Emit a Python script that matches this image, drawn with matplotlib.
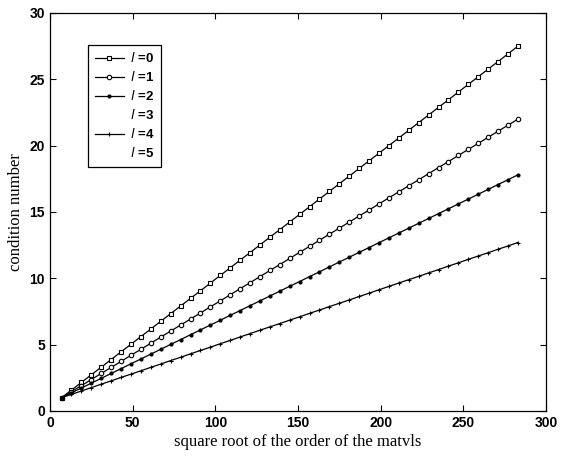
import matplotlib
matplotlib.use("Agg")
import matplotlib.pyplot as plt
from matplotlib.lines import Line2D

x = [7, 13, 19, 25, 31, 37, 43, 49, 55, 61, 67, 73, 79, 85, 91, 97, 103, 109, 115, 121,
     127, 133, 139, 145, 151, 157, 163, 169, 175, 181, 187, 193, 199, 205, 211, 217, 223,
     229, 235, 241, 247, 253, 259, 265, 271, 277, 283]

y_l0 = [1.00, 1.58, 2.15, 2.73, 3.30, 3.88, 4.46, 5.03, 5.61, 6.18, 6.76, 7.34, 7.91, 8.49,
        9.06, 9.64, 10.22, 10.79, 11.37, 11.94, 12.52, 13.10, 13.67, 14.25, 14.82, 15.40,
        15.98, 16.55, 17.13, 17.70, 18.28, 18.86, 19.43, 20.01, 20.58, 21.16, 21.74, 22.31,
        22.89, 23.46, 24.04, 24.62, 25.19, 25.77, 26.34, 26.92, 27.50]
y_l1 = [1.00, 1.46, 1.91, 2.37, 2.83, 3.28, 3.74, 4.20, 4.65, 5.11, 5.57, 6.02, 6.48, 6.93,
        7.39, 7.85, 8.30, 8.76, 9.22, 9.67, 10.13, 10.59, 11.04, 11.50, 11.96, 12.41, 12.87,
        13.33, 13.78, 14.24, 14.70, 15.15, 15.61, 16.07, 16.52, 16.98, 17.43, 17.89, 18.35,
        18.80, 19.26, 19.72, 20.17, 20.63, 21.09, 21.54, 22.00]
y_l2 = [1.00, 1.37, 1.73, 2.10, 2.46, 2.83, 3.19, 3.56, 3.92, 4.29, 4.65, 5.02, 5.38, 5.75,
        6.11, 6.48, 6.84, 7.21, 7.57, 7.94, 8.30, 8.67, 9.03, 9.40, 9.76, 10.13, 10.49,
        10.86, 11.23, 11.59, 11.96, 12.32, 12.69, 13.05, 13.42, 13.78, 14.15, 14.51, 14.88,
        15.24, 15.61, 15.97, 16.34, 16.70, 17.07, 17.43, 17.80]
y_l4 = [1.00, 1.25, 1.51, 1.76, 2.02, 2.27, 2.53, 2.78, 3.03, 3.29, 3.54, 3.80, 4.05, 4.31,
        4.56, 4.81, 5.07, 5.32, 5.58, 5.83, 6.09, 6.34, 6.59, 6.85, 7.10, 7.36, 7.61, 7.87,
        8.12, 8.37, 8.63, 8.88, 9.14, 9.39, 9.65, 9.90, 10.15, 10.41, 10.66, 10.92, 11.17,
        11.43, 11.68, 11.93, 12.19, 12.44, 12.70]

labels = ["$l$ =0", "$l$ =1", "$l$ =2", "$l$ =3", "$l$ =4", "$l$ =5"]
xticks = [0, 50, 100, 150, 200, 250, 300]
yticks = [0, 5, 10, 15, 20, 25, 30]

fig = plt.figure(figsize=(5.88, 4.59), dpi=100)
ax = fig.add_axes([0.085, 0.1046, 0.8436, 0.8671])

ax.plot(x, y_l0, color="black", lw=0.9, marker="s", ms=3.2, mfc="white", mec="black", mew=0.8)
ax.plot(x, y_l1, color="black", lw=0.9, marker="o", ms=3.2, mfc="white", mec="black", mew=0.8)
ax.plot(x, y_l2, color="black", lw=0.9, marker=".", ms=4.0, mfc="black", mec="black")
ax.plot(x, y_l4, color="black", lw=0.9, marker="+", ms=3.2, mec="black", mew=0.8)

handles = [
    Line2D([], [], color="black", lw=0.9, marker="s", ms=3.2, mfc="white", mec="black", mew=0.8),
    Line2D([], [], color="black", lw=0.9, marker="o", ms=3.2, mfc="white", mec="black", mew=0.8),
    Line2D([], [], color="black", lw=0.9, marker=".", ms=4.0),
    Line2D([], [], color="none", lw=0.9),
    Line2D([], [], color="black", lw=0.9, marker="+", ms=3.2, mew=0.8),
    Line2D([], [], color="none", lw=0.9),
]
leg = ax.legend(handles, labels, loc="upper left", bbox_to_anchor=(0.077, 0.92),
                borderaxespad=0, numpoints=1,
                frameon=True, fancybox=False, edgecolor="black", framealpha=1,
                prop={"family": "Liberation Sans", "weight": "bold", "size": 9.5},
                handlelength=2.2, labelspacing=0.38, borderpad=0.5, handletextpad=0.5)
leg.get_frame().set_linewidth(0.9)

ax.set_xlim(0, 300)
ax.set_ylim(0, 30)
ax.set_xticks(xticks)
ax.set_yticks(yticks)
ax.tick_params(direction="in", top=True, right=True, length=4, width=0.8, labelsize=10)
for lab in ax.get_xticklabels() + ax.get_yticklabels():
    lab.set_fontfamily("Liberation Sans")
    lab.set_fontweight("bold")
for s in ax.spines.values():
    s.set_linewidth(0.9)

ax.set_xlabel("square root of the order of the matvls", fontfamily="Liberation Serif",
              fontsize=12, labelpad=3)
ax.set_ylabel("condition number", fontfamily="Liberation Serif", fontsize=12, labelpad=4)

fig.savefig("out.png", dpi=100)
